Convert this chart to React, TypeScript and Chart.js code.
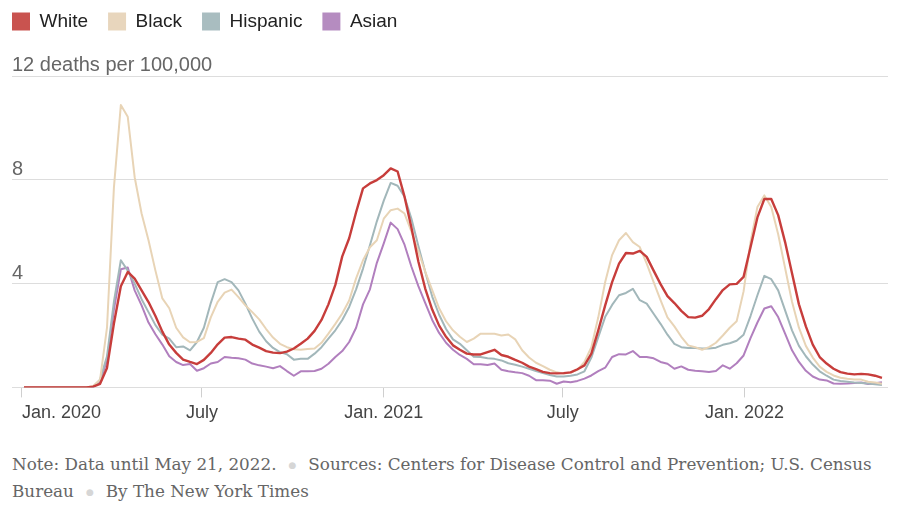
import React, { useEffect, useRef } from "react";
import { Chart, registerables } from "chart.js";

Chart.register(...registerables);

// ---- data (weekly, week 0 ends ~Jan 3, 2020; last week ends May 21, 2022) ----
const FIRST_WEEK_DAY = 2; // days after Jan 1, 2020
const DAYS_PER_WEEK = 7;

const seriesNames = ["White", "Black", "Hispanic", "Asian"];

const white = [
  0, 0, 0, 0, 0, 0, 0, 0, 0, 0,
  0.03, 0.14, 0.75, 2.46, 3.9, 4.45, 4.19, 3.74, 3.29, 2.75,
  2.15, 1.65, 1.33, 1.07, 0.98, 0.9, 1.06, 1.33, 1.66, 1.92,
  1.94, 1.88, 1.84, 1.65, 1.53, 1.4, 1.34, 1.32, 1.38, 1.5,
  1.68, 1.88, 2.18, 2.6, 3.2, 3.95, 5.05, 5.75, 6.75, 7.67,
  7.86, 7.99, 8.18, 8.44, 8.32, 7.35, 6.15, 4.85, 3.8, 3.0,
  2.38, 1.95, 1.62, 1.45, 1.3, 1.27, 1.27, 1.36, 1.45, 1.25,
  1.18, 1.06, 0.95, 0.8, 0.7, 0.6, 0.55, 0.54, 0.55, 0.58,
  0.7, 0.85, 1.3, 2.2, 3.16, 4.06, 4.77, 5.18, 5.16, 5.26,
  5.03, 4.5, 3.98, 3.52, 3.25, 2.95, 2.71, 2.69, 2.76, 3.02,
  3.4, 3.75, 3.97, 3.99, 4.26, 5.4, 6.55, 7.26, 7.26, 6.64,
  5.6, 4.4, 3.2, 2.35, 1.65, 1.17, 0.92, 0.72, 0.59, 0.53,
  0.5, 0.52, 0.5, 0.45, 0.37,
];

const black = [
  0, 0, 0, 0, 0, 0, 0, 0, 0, 0,
  0.05, 0.3, 2.3, 7.7, 10.88, 10.43, 8.1, 6.7, 5.67, 4.5,
  3.43, 3.05, 2.3, 1.93, 1.74, 1.75, 1.9, 2.7, 3.3, 3.65,
  3.77, 3.48, 3.16, 2.9, 2.62, 2.25, 1.92, 1.68, 1.55, 1.47,
  1.45, 1.48, 1.5, 1.72, 2.07, 2.45, 2.85, 3.35, 4.2, 4.9,
  5.4, 5.67, 6.5, 6.83, 6.89, 6.7, 6.0, 5.25, 4.45, 3.75,
  3.05, 2.55, 2.2, 1.95, 1.75, 1.88, 2.07, 2.07, 2.07, 2.0,
  2.04, 1.85, 1.43, 1.15, 0.95, 0.82, 0.68, 0.58, 0.54, 0.57,
  0.68, 0.98, 1.55, 2.7, 4.06, 5.1, 5.67, 5.95, 5.6, 5.41,
  4.77, 4.06, 3.36, 2.7, 2.35, 1.95, 1.62, 1.55, 1.45, 1.55,
  1.72, 2.0, 2.3, 2.55, 3.7, 5.6, 6.95, 7.4, 6.95, 5.9,
  4.6, 3.3, 2.3, 1.6, 1.15, 0.8, 0.6, 0.46, 0.37, 0.33,
  0.3, 0.3, 0.22, 0.19, 0.14,
];

const hispanic = [
  0, 0, 0, 0, 0, 0, 0, 0, 0, 0,
  0.02, 0.3, 1.2, 3.3, 4.9, 4.5, 4.0, 3.4, 2.9, 2.4,
  2.03, 1.88, 1.55, 1.58, 1.43, 1.75, 2.3, 3.25, 4.06, 4.17,
  4.06, 3.74, 3.23, 2.65, 2.15, 1.78, 1.52, 1.36, 1.28, 1.07,
  1.1, 1.1, 1.3, 1.55, 1.88, 2.2, 2.6, 3.1, 3.78, 4.58,
  5.48, 6.4, 7.2, 7.88, 7.77, 7.35, 6.5, 5.45, 4.45, 3.5,
  2.8, 2.25, 1.85, 1.68, 1.43, 1.18, 1.17, 1.12, 1.1, 1.04,
  0.93, 0.87, 0.8, 0.72, 0.63, 0.55, 0.48, 0.42, 0.42, 0.45,
  0.5, 0.62, 1.15, 1.94, 2.72, 3.18, 3.55, 3.64, 3.8, 3.36,
  3.23, 2.84, 2.45, 2.03, 1.68, 1.55, 1.52, 1.52, 1.5, 1.5,
  1.53, 1.64, 1.7, 1.8, 2.03, 2.75, 3.55, 4.3, 4.17, 3.74,
  2.97, 2.2, 1.6, 1.2, 0.88, 0.62, 0.45, 0.3, 0.25, 0.22,
  0.19, 0.17, 0.15, 0.12, 0.09,
];

const asian = [
  0, 0, 0, 0, 0, 0, 0, 0, 0, 0,
  0.02, 0.2, 1.05, 3.0, 4.55, 4.62, 3.74, 3.16, 2.5, 2.05,
  1.65, 1.2, 0.98, 0.86, 0.9, 0.64, 0.74, 0.92, 0.98, 1.17,
  1.14, 1.12, 1.07, 0.92, 0.85, 0.8, 0.74, 0.82, 0.63, 0.45,
  0.62, 0.62, 0.63, 0.72, 0.91, 1.17, 1.4, 1.75, 2.3, 3.2,
  3.78, 4.8, 5.55, 6.35, 6.1, 5.5, 4.65, 3.9, 3.25, 2.6,
  2.1, 1.72, 1.45, 1.25, 1.1, 0.89, 0.89, 0.86, 0.92, 0.68,
  0.62, 0.58, 0.55, 0.45, 0.28, 0.28, 0.26, 0.14, 0.23, 0.2,
  0.25, 0.34, 0.46, 0.63, 0.76, 1.17, 1.28, 1.27, 1.4, 1.17,
  1.17, 1.12, 0.98, 0.91, 0.72, 0.81, 0.68, 0.64, 0.62, 0.59,
  0.63, 0.85, 0.72, 0.93, 1.23, 1.9, 2.5, 3.04, 3.13, 2.71,
  2.07, 1.43, 0.98, 0.64, 0.42, 0.3, 0.27, 0.15, 0.14, 0.15,
  0.17, 0.19, 0.13, 0.16, 0.2,
];

// x ticks in days after Jan 1, 2020 (last one is an unlabeled end marker)
const xTickDays = [0, 182, 366, 547, 731, 876];
const xTickLabels = ["Jan. 2020", "July", "Jan. 2021", "July", "Jan. 2022", ""];
const yTickValues = [0, 4, 8, 12];
const yTickLabels = ["", "4", "8", "12 deaths per 100,000"];

// ---- styles ----
const lineColors = ["#c73d3b", "#e8d4b6", "#a2b7ba", "#b17fbe"];
const fillColors = ["#c9534f", "#e8d6bd", "#a9bdc0", "#b58cc0"];
const lineWidths = [2.4, 2, 2, 2];
const SANS = '"Liberation Sans", Arial, Helvetica, sans-serif';
const X_MIN = -10.1;
const X_MAX = 876.1;
const Y_MAX = 13.35;
const CANVAS_W = 908;
const CANVAS_H = 437;

export default function App() {
  const ref = useRef<HTMLCanvasElement>(null);

  useEffect(() => {
    const canvas = ref.current;
    if (!canvas) return;
    const values = [white, black, hispanic, asian];
    const toPoints = (vals: number[]) =>
      vals.map((v, i) => ({ x: FIRST_WEEK_DAY + i * DAYS_PER_WEEK, y: v }));

    const chart = new Chart(canvas, {
      type: "line",
      data: {
        datasets: seriesNames.map((name, k) => ({
          label: name,
          data: toPoints(values[k]),
          borderColor: lineColors[k],
          backgroundColor: fillColors[k],
          borderWidth: lineWidths[k],
          pointRadius: 0,
          tension: 0,
          fill: false,
          borderJoinStyle: "round" as const,
        })),
      },
      options: {
        responsive: false,
        animation: false,
        devicePixelRatio: 1,
        events: [],
        layout: { padding: { left: 0, right: 12, top: 0, bottom: 0 } },
        plugins: {
          legend: {
            position: "top",
            align: "start",
            labels: {
              boxWidth: 18,
              boxHeight: 18,
              padding: 20,
              color: "#222",
              font: { family: SANS, size: 19 },
              generateLabels: (c: any) =>
                Chart.defaults.plugins.legend.labels
                  .generateLabels(c)
                  .map((l: any) => ({ ...l, lineWidth: 0 })),
            },
          },
          tooltip: { enabled: false },
        },
        scales: {
          x: {
            type: "linear",
            min: X_MIN,
            max: X_MAX,
            afterBuildTicks: (s: any) => {
              s.ticks = xTickDays.map((value) => ({ value }));
            },
            ticks: {
              autoSkip: false,
              maxRotation: 0,
              align: "inner",
              padding: 5,
              color: "#444",
              font: { family: SANS, size: 18 },
              callback: (_v: any, i: number) => xTickLabels[i],
            },
            grid: {
              drawOnChartArea: false,
              drawTicks: true,
              tickLength: 10,
              tickWidth: 1,
              tickColor: (ctx: any) =>
                ctx.index === xTickDays.length - 1 ? "rgba(0,0,0,0)" : "#cfcfcf",
            },
            border: { display: false },
          },
          y: {
            type: "linear",
            min: 0,
            max: Y_MAX,
            afterBuildTicks: (s: any) => {
              s.ticks = yTickValues.map((value) => ({ value }));
            },
            afterFit: (s: any) => {
              s.width = 20;
            },
            ticks: {
              mirror: true,
              padding: 0,
              labelOffset: -10.5,
              autoSkip: false,
              color: "#666",
              font: { family: SANS, size: 20 },
              callback: (_v: any, i: number) => yTickLabels[i],
            },
            grid: { color: "#dddddd", lineWidth: 1, drawTicks: false },
            border: { display: false },
          },
        },
      },
    } as any);
    return () => chart.destroy();
  }, []);

  const dot = (
    <span style={{ color: "#d6d6d6", margin: "0 12px", fontSize: 9, verticalAlign: "2px" }}>●</span>
  );

  return (
    <>
      <div style={{ position: "absolute", left: -8, top: -8, width: CANVAS_W, height: CANVAS_H }}>
        <canvas
          ref={ref}
          width={CANVAS_W}
          height={CANVAS_H}
          style={{ display: "block", width: CANVAS_W, height: CANVAS_H }}
        />
      </div>
      <div
        style={{
          position: "absolute",
          left: 12,
          top: 451,
          fontFamily: '"DejaVu Serif", Georgia, serif',
          fontSize: 16.8,
          lineHeight: "26px",
          color: "#666",
          whiteSpace: "nowrap",
        }}
      >
        <div>
          Note: Data until May 21, 2022.{dot}Sources: Centers for Disease Control and Prevention; U.S. Census
        </div>
        <div>
          Bureau{dot}By The New York Times
        </div>
      </div>
    </>
  );
}
